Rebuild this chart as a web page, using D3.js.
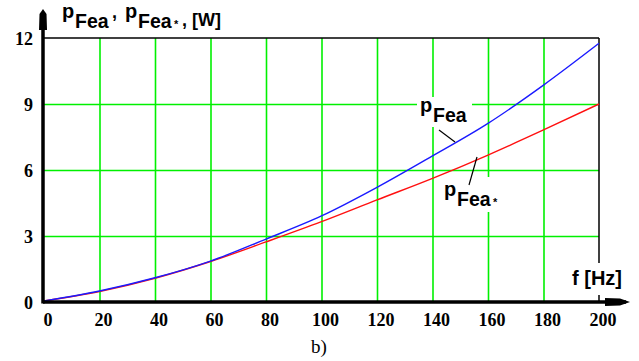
<!DOCTYPE html>
<html>
<head>
<meta charset="utf-8">
<script src="https://cdn.jsdelivr.net/npm/d3@7"></script>
<style>
  html, body { margin: 0; padding: 0; background: #fff; }
  svg { display: block; }
  .tick text { font-family: "Liberation Serif", "Times New Roman", serif; font-weight: bold; font-size: 18px; fill: #000; }
  .lbl { font-family: "Liberation Sans", Arial, sans-serif; font-weight: bold; fill: #000; }
</style>
</head>
<body>
<svg id="chart" width="639" height="361"></svg>
<script>
// ---- data ----
const freq      = [0, 20, 40, 60, 80, 100, 120, 140, 160, 180, 200];
const pFea      = [0.05, 0.50, 1.10, 1.86, 2.86, 3.91, 5.21, 6.64, 8.12, 9.86, 11.76];
const pFeaStar  = [0.05, 0.48, 1.08, 1.84, 2.73, 3.65, 4.64, 5.62, 6.68, 7.82, 9.00];
const xTicks    = [0, 20, 40, 60, 80, 100, 120, 140, 160, 180, 200];
const yTicks    = [0, 3, 6, 9, 12];

const svg = d3.select("#chart");
const x = d3.scaleLinear().domain([0, 200]).range([44, 599]);
const y = d3.scaleLinear().domain([0, 12]).range([302, 38]);
const green = "#00f000";

// ---- grid ----
const gridX = svg.append("g").attr("transform", `translate(0,${y(0)})`)
  .call(d3.axisTop(x).tickValues(xTicks.filter(d => d > 0 && d < 200)).tickSize(y(0) - y(12)).tickFormat(""));
gridX.select(".domain").remove();
gridX.selectAll("line").attr("stroke", green).attr("stroke-width", 1.6);

const gridY = svg.append("g").attr("transform", `translate(${x(0)},0)`)
  .call(d3.axisRight(y).tickValues(yTicks.filter(d => d > 0 && d < 12)).tickSize(x(200) - x(0)).tickFormat(""));
gridY.select(".domain").remove();
gridY.selectAll("line").attr("stroke", green).attr("stroke-width", 1.6);

// frame top and right
svg.append("line").attr("x1", x(0)).attr("x2", x(200)).attr("y1", y(12)).attr("y2", y(12))
  .attr("stroke", "#000").attr("stroke-width", 1.5);
svg.append("line").attr("x1", x(200)).attr("x2", x(200)).attr("y1", y(12)).attr("y2", y(0))
  .attr("stroke", "#000").attr("stroke-width", 1.5);

// white label backgrounds (cut the grid)
svg.append("rect").attr("x", 417).attr("y", 97).attr("width", 55).attr("height", 30).attr("fill", "#fff");
svg.append("rect").attr("x", 438).attr("y", 177).attr("width", 64).attr("height", 35).attr("fill", "#fff");
svg.append("rect").attr("x", 568).attr("y", 263).attr("width", 62).attr("height", 32).attr("fill", "#fff");

// ---- curves ----
const line = (vals) => d3.line().x((d, i) => x(freq[i])).y(d => y(d)).curve(d3.curveMonotoneX)(vals);
svg.append("path").attr("d", line(pFeaStar)).attr("fill", "none").attr("stroke", "#ff1010").attr("stroke-width", 1.4);
svg.append("path").attr("d", line(pFea)).attr("fill", "none").attr("stroke", "#1a1aff").attr("stroke-width", 1.4);

// ---- axes ----
svg.append("line").attr("x1", x(0) - 1).attr("x2", 626).attr("y1", y(0)).attr("y2", y(0))
  .attr("stroke", "#000").attr("stroke-width", 3.5);
svg.append("line").attr("x1", x(0) - 1).attr("x2", x(0) - 1).attr("y1", y(0) + 1.5).attr("y2", 12)
  .attr("stroke", "#000").attr("stroke-width", 3.5);
// arrowheads
svg.append("path").attr("d", "M43,9 L46.5,14 L47,30 L39,30 L39.5,14 Z").attr("fill", "#000");
svg.append("path").attr("d", "M630,302 L620,298.5 L605,298 L605,306 L620,305.5 Z").attr("fill", "#000");

// tick labels
const ax = svg.append("g").attr("transform", `translate(3.5,${y(0)})`)
  .call(d3.axisBottom(x).tickValues(xTicks).tickSize(0).tickPadding(8).tickFormat(d3.format("d")));
ax.select(".domain").remove();
ax.selectAll("text").attr("dy", "0.71em").attr("y", 11);

const ay = svg.append("g").attr("transform", `translate(33,0.5)`)
  .call(d3.axisLeft(y).tickValues(yTicks).tickSize(0).tickPadding(0).tickFormat(d3.format("d")));
ay.select(".domain").remove();

// ---- labels ----
function pLabel(px, py, star) {
  const g = svg.append("g");
  g.append("text").attr("class", "lbl").attr("x", px).attr("y", py).attr("font-size", 20).text("p");
  g.append("text").attr("class", "lbl").attr("x", px + 13).attr("y", py + 9.5).attr("font-size", 19.5).text("Fea");
  if (star) g.append("text").attr("class", "lbl").attr("x", px + 49).attr("y", py + 10).attr("font-size", 11).text("*");
  return g;
}
// title
pLabel(62, 18, false);
svg.append("text").attr("class", "lbl").attr("x", 112).attr("y", 18).attr("font-size", 18).text(",");
pLabel(125, 18, true);
svg.append("text").attr("class", "lbl").attr("x", 182).attr("y", 26).attr("font-size", 18).text(", [W]");

// in-chart labels
pLabel(420, 112, false);
svg.append("line").attr("x1", 439).attr("y1", 130).attr("x2", 455).attr("y2", 142).attr("stroke", "#000").attr("stroke-width", 1.2);
pLabel(444, 196, true);
svg.append("line").attr("x1", 469).attr("y1", 185).attr("x2", 477).attr("y2", 157).attr("stroke", "#000").attr("stroke-width", 1.2);

svg.append("text").attr("class", "lbl").attr("x", 572).attr("y", 285).attr("font-size", 20).text("f [Hz]");
svg.append("text").attr("x", 311).attr("y", 353).attr("font-family", "Liberation Serif, Times New Roman, serif")
  .attr("font-size", 19).text("b)");
</script>
</body>
</html>
